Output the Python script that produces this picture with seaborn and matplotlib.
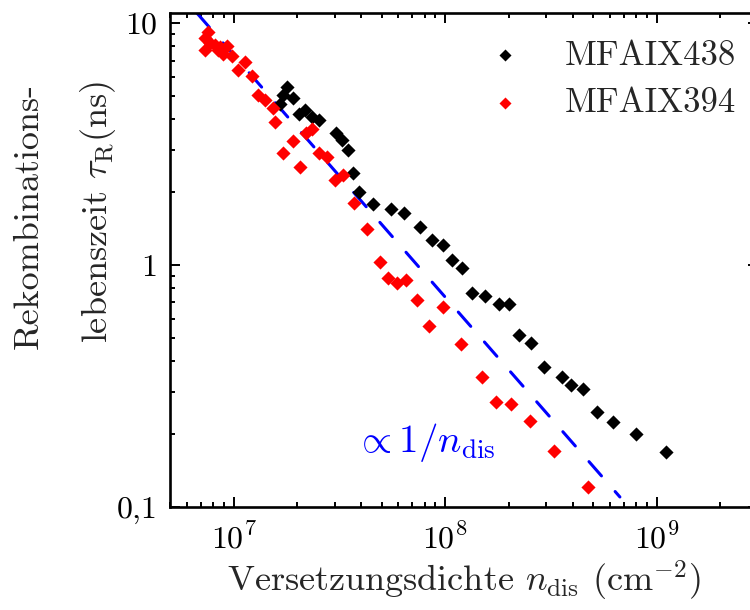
import numpy as np
import pandas as pd
import matplotlib
matplotlib.use("Agg")
import matplotlib.pyplot as plt
import matplotlib.ticker as mticker
import seaborn as sns

# ---- data ----
n_438 = [1.66e7, 1.71e7, 1.79e7, 1.91e7, 2.04e7, 2.18e7, 2.35e7, 2.53e7, 3.05e7, 3.25e7,
         3.47e7, 3.66e7, 3.91e7, 4.56e7, 5.55e7, 6.39e7, 7.60e7, 8.67e7, 9.77e7, 1.08e8,
         1.20e8, 1.34e8, 1.54e8, 1.80e8, 2.00e8, 2.23e8, 2.55e8, 2.93e8, 3.57e8, 3.94e8,
         4.49e8, 5.22e8, 6.22e8, 7.98e8, 1.107e9]
tau_438 = [4.62, 5.04, 5.44, 4.90, 4.21, 4.37, 4.09, 3.97, 3.51, 3.29,
           2.99, 2.40, 2.00, 1.79, 1.70, 1.64, 1.435, 1.27, 1.21, 1.05,
           0.972, 0.766, 0.745, 0.690, 0.690, 0.514, 0.476, 0.379, 0.344, 0.319,
           0.307, 0.247, 0.2245, 0.200, 0.169]

n_394 = [7.32e6, 7.32e6, 7.56e6, 7.73e6, 8.16e6, 8.43e6, 8.62e6, 8.90e6, 9.30e6, 9.82e6,
         1.131e7, 1.048e7, 1.221e7, 1.303e7, 1.407e7, 1.535e7, 1.569e7, 1.71e7, 1.91e7, 2.06e7,
         2.20e7, 2.35e7, 2.53e7, 2.76e7, 3.01e7, 3.29e7, 3.71e7, 4.27e7, 4.92e7, 5.37e7,
         5.92e7, 6.53e7, 7.36e7, 8.39e7, 9.77e7, 1.19e8, 1.49e8, 1.74e8, 2.05e8, 2.52e8,
         3.27e8, 4.73e8]
tau_394 = [7.73, 8.67, 9.18, 8.27, 8.11, 7.73, 7.96, 7.45, 8.03, 7.31,
           6.90, 6.39, 6.04, 5.04, 4.81, 4.46, 3.90, 2.90, 3.25, 2.54,
           3.51, 3.65, 2.90, 2.80, 2.24, 2.35, 1.80, 1.41, 1.03, 0.884,
           0.842, 0.867, 0.717, 0.560, 0.671, 0.472, 0.345, 0.272, 0.267, 0.2266,
           0.170, 0.121]

fit_n = [6.7e6, 6.7e8]
fit_tau = [11.0, 0.11]

labels = ["MFAIX438", "MFAIX394"]
x_ticks = [1e7, 1e8, 1e9]
x_ticklabels = [r"$10^{7}$", r"$10^{8}$", r"$10^{9}$"]
y_ticks = [0.1, 1, 10]
y_ticklabels = ["0,1", "1", "10"]

# ---- style ----
sns.set_theme(style="ticks")
plt.rcParams["font.family"] = ["cmr10", "DejaVu Serif"]
plt.rcParams["mathtext.fontset"] = "cm"
plt.rcParams["axes.formatter.use_mathtext"] = True
plt.rcParams["axes.unicode_minus"] = False

FS_TICK = 23
FS_LAB = 26

fig = plt.figure(figsize=(7.5, 6.1), dpi=100)
ax = fig.add_axes([170 / 750, 1 - 507 / 610, (757.6 - 170) / 750, (507 - 13) / 610])

df1 = pd.DataFrame({"n": n_438, "tau": tau_438})
df2 = pd.DataFrame({"n": n_394, "tau": tau_394})
dff = pd.DataFrame({"n": fit_n, "tau": fit_tau})

sns.lineplot(data=dff, x="n", y="tau", ax=ax, color="#0000ff", lw=2.2,
             legend=False, zorder=1)
ax.lines[0].set_dashes((6.2, 6.8))
ax.lines[0].set_dash_capstyle("round")

sns.scatterplot(data=df1, x="n", y="tau", ax=ax, color="black", marker="D",
                s=52, linewidth=0, label=labels[0], zorder=3)
sns.scatterplot(data=df2, x="n", y="tau", ax=ax, color="#ff0000", marker="D",
                s=52, linewidth=0, label=labels[1], zorder=3)

ax.set_xscale("log")
ax.set_yscale("log")
ax.set_xlim(5e6, 3e9)
ax.set_ylim(0.1, 11)

ax.xaxis.set_major_locator(mticker.FixedLocator(x_ticks))
ax.xaxis.set_major_formatter(mticker.FixedFormatter(x_ticklabels))
ax.yaxis.set_major_locator(mticker.FixedLocator(y_ticks))
ax.yaxis.set_major_formatter(mticker.FixedFormatter(y_ticklabels))
ax.xaxis.set_minor_locator(mticker.LogLocator(base=10, subs=np.arange(2, 10), numticks=20))
ax.yaxis.set_minor_locator(mticker.LogLocator(base=10, subs=np.arange(2, 10), numticks=20))
ax.xaxis.set_minor_formatter(mticker.NullFormatter())
ax.yaxis.set_minor_formatter(mticker.NullFormatter())

ax.tick_params(which="both", direction="in", top=True, right=True, colors="black",
               labelsize=FS_TICK, width=1.4)
ax.tick_params(which="major", length=7.5)
ax.tick_params(which="minor", length=3.8)
ax.tick_params(axis="x", which="major", pad=11)
ax.tick_params(axis="y", which="major", pad=9)
for sp in ax.spines.values():
    sp.set_linewidth(1.9)
    sp.set_color("black")

ax.set_xlabel(r"Versetzungsdichte $n_\mathrm{dis}$ (cm$^{-2}$)", fontsize=FS_LAB, labelpad=4)
ax.set_ylabel("")

fig.text(29 / 750, 1 - 216 / 610, "Rekombinations-", rotation=90, ha="center",
         va="center", fontsize=FS_LAB)
fig.text(98 / 750, 1 - 212 / 610, r"lebenszeit $\tau_\mathrm{R}$(ns)", rotation=90,
         ha="center", va="center", fontsize=FS_LAB)

fig.text(425 / 750, 1 - 452 / 610, r"$\propto 1/n_\mathrm{dis}$",
         color="#0000ff", fontsize=28, ha="center", va="baseline")

ax.legend(loc="upper left", bbox_to_anchor=(474 / 750, 1 - 26 / 610),
          bbox_transform=fig.transFigure, frameon=False, fontsize=25,
          markerscale=0.85, handlelength=1.0, handletextpad=1.2,
          labelspacing=0.45, borderaxespad=0)

fig.savefig("out.png", dpi=100)
